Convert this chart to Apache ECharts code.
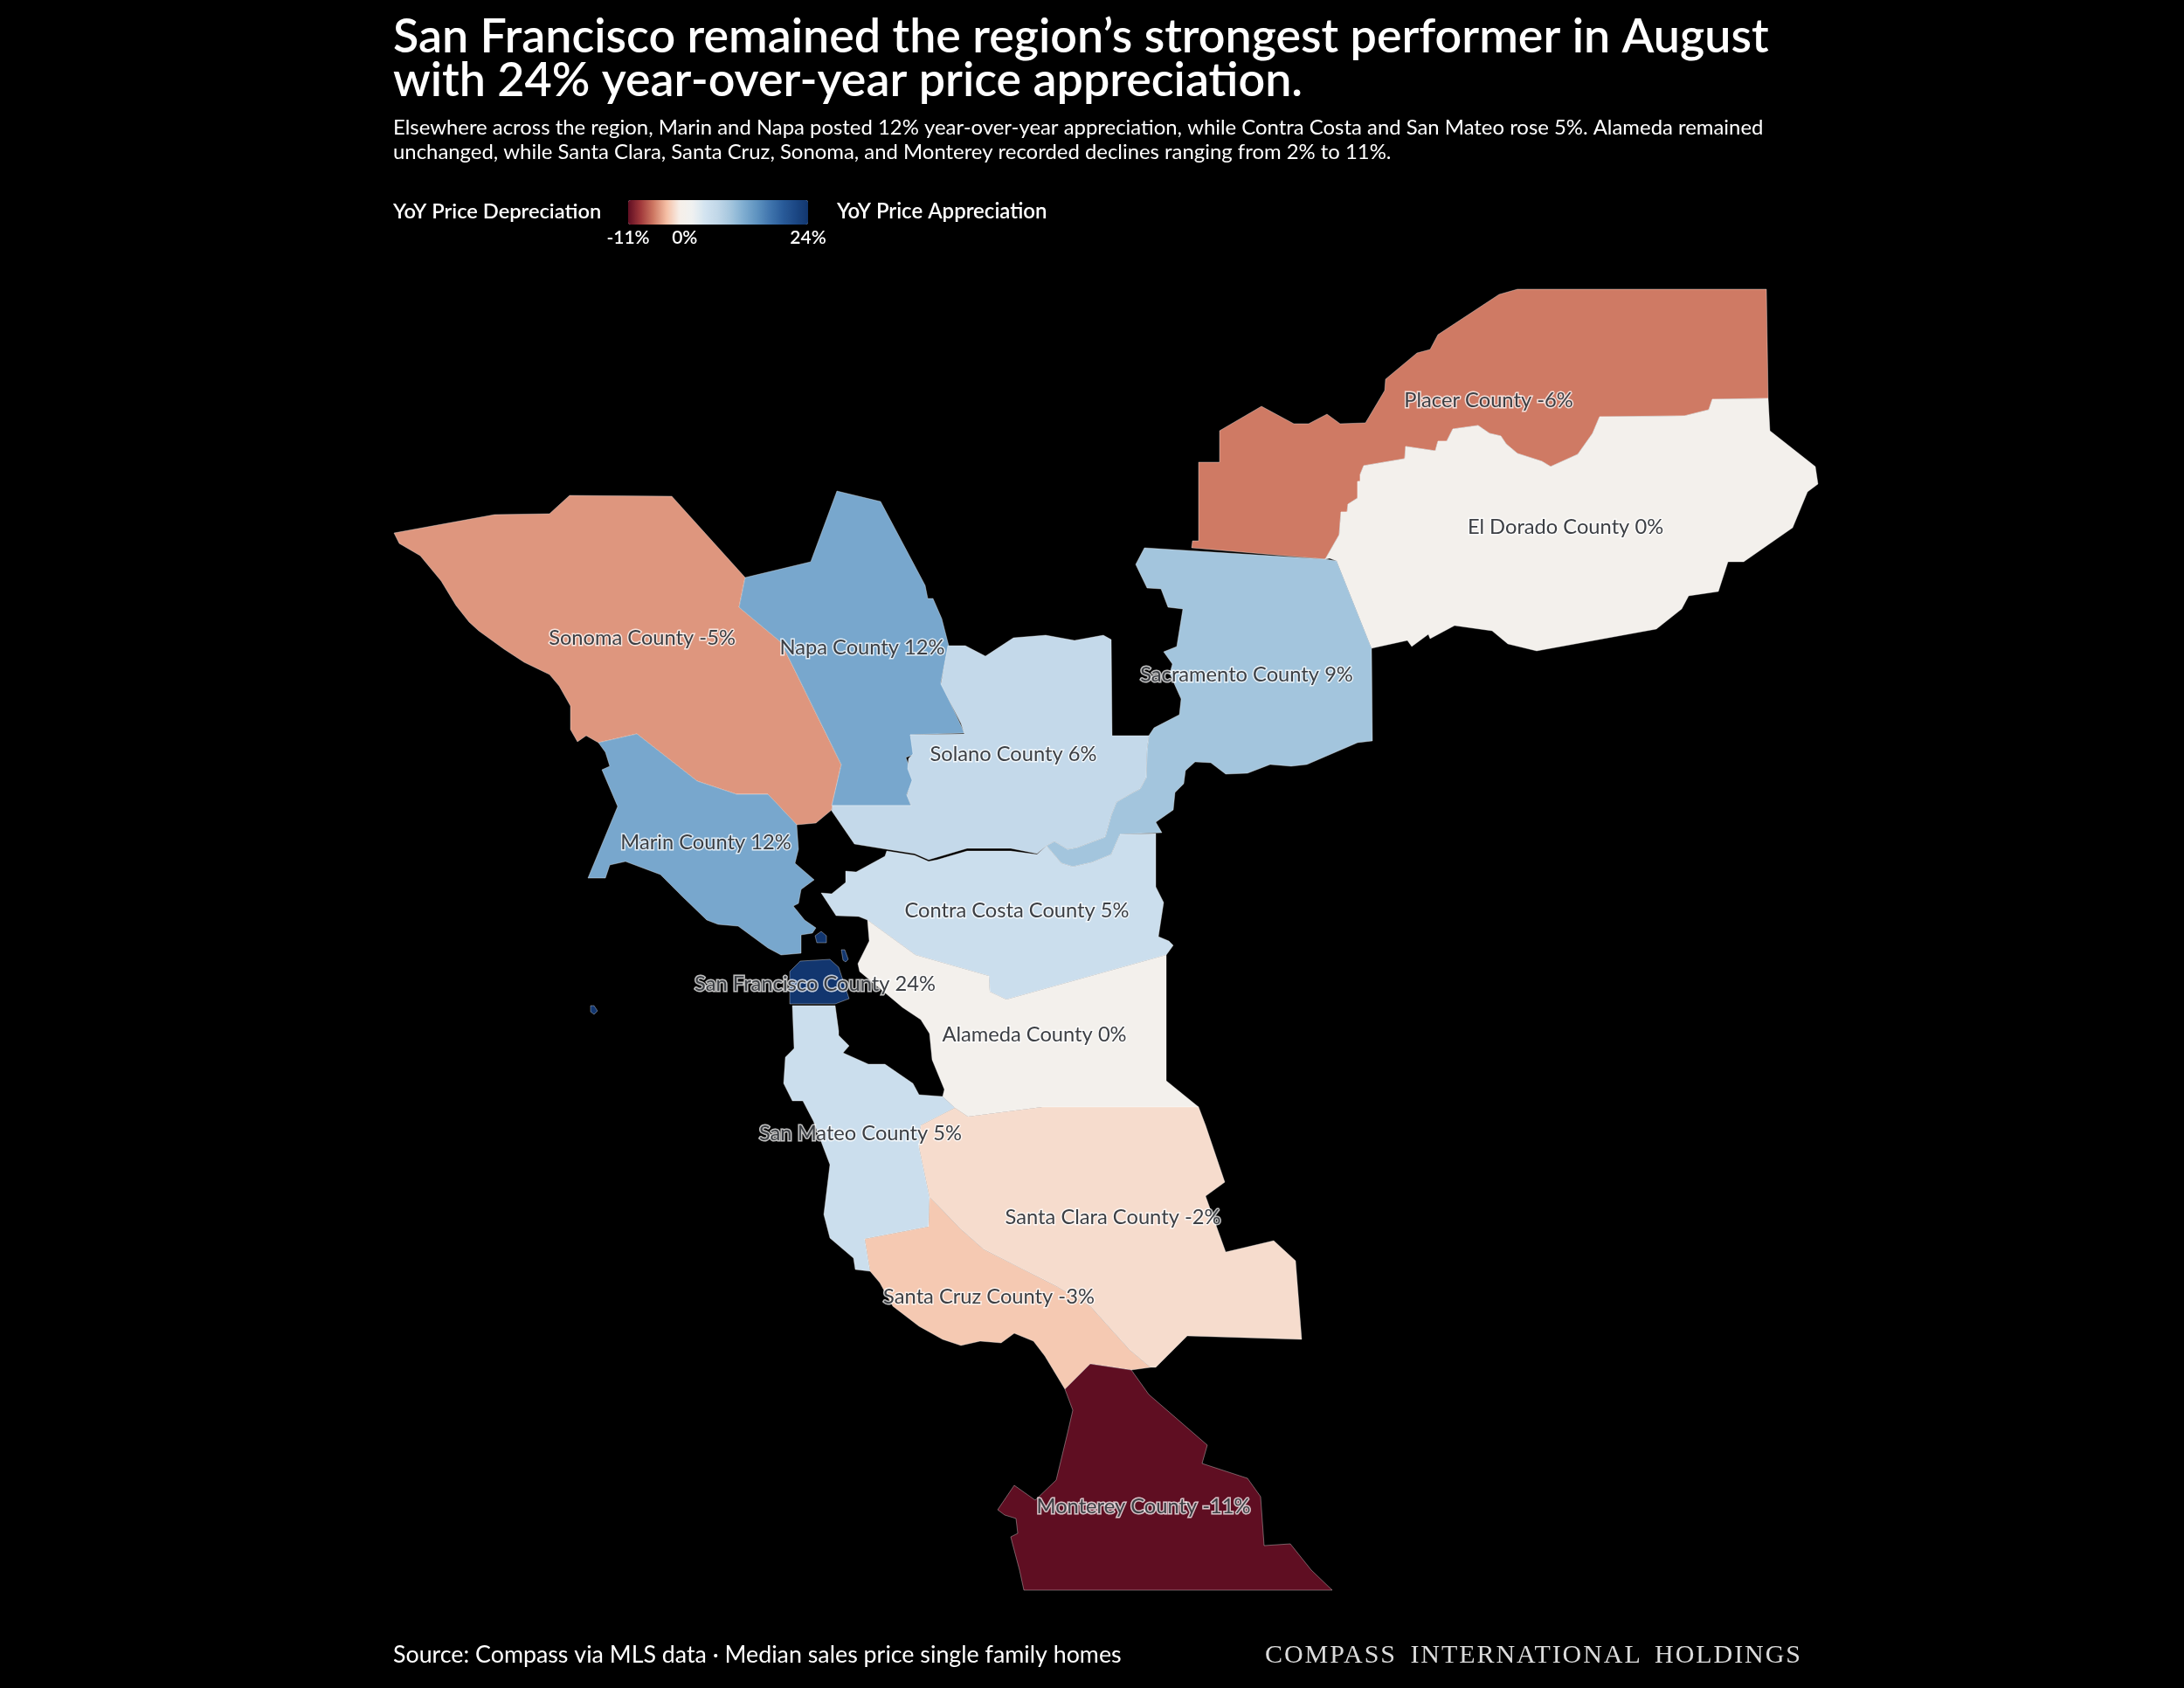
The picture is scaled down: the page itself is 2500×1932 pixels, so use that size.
<!DOCTYPE html>
<html>
<head>
<meta charset="utf-8">
<title>Bay Area YoY price appreciation by county</title>
<script src="https://cdn.jsdelivr.net/npm/echarts@6/dist/echarts.min.js"></script>
<style>
  html, body { margin: 0; padding: 0; background: #000; }
  #chart { width: 2500px; height: 1932px; }
  #wordmark {
    position: absolute; left: 1448px; top: 1875px;
    font: 400 30px "Liberation Serif", serif; line-height: 36px;
    color: #dcdcdc; letter-spacing: 1.95px; word-spacing: 6px; white-space: nowrap;
  }
</style>
</head>
<body>
<div id="chart"></div>
<div id="wordmark">COMPASS INTERNATIONAL HOLDINGS</div>
<script>
// Data
var counties = ['Placer', 'El Dorado', 'Sonoma', 'Napa', 'Sacramento', 'Solano', 'Marin',
  'Contra Costa', 'San Francisco', 'Alameda', 'San Mateo', 'Santa Clara', 'Santa Cruz', 'Monterey'];
var yoyChange = [-6, 0, -5, 12, 9, 6, 12, 5, 24, 0, 5, -2, -3, -11];
var legendTicks = [-11, 0, 24];

// County outlines, x / y as measured on the 2500 wide map
var placerSouthEdge = [[2024,456],[1960,457],[1956,469],[1928,476],[1831,477],[1823,496],[1806,520],[1775,534],[1765,528],[1737,519],[1724,508],[1718,499],[1705,496],[1692,487],[1663,491],[1656,505],[1646,505],[1643,516],[1609,511],[1608,525],[1561,533],[1557,543],[1557,551],[1554,551],[1554,570],[1543,577],[1542,586],[1535,586],[1533,612],[1517,640]];
var placerShape = [[1364,627],[1365,619],[1372,619],[1372,529],[1396,529],[1396,493],[1444,465],[1481,485],[1498,485],[1519,474],[1534,485],[1563,484],[1585,447],[1586,434],[1622,404],[1637,400],[1646,383],[1716,337],[1737,331],[2022,331]].concat(placerSouthEdge);
var elDoradoShape = placerSouthEdge.slice().reverse().concat([[2026,493],[2078,534],[2081,554],[2069,563],[2052,604],[1996,643],[1978,643],[1967,677],[1933,682],[1925,697],[1896,720],[1759,745],[1726,737],[1708,722],[1665,716],[1637,731],[1635,726],[1616,740],[1611,733],[1570,742],[1530,642],[1522,639]]);
var sonomaShape = [[451,610],[566,589],[629,588],[652,567],[769,568],[853,661],[846,695],[894,735],[963,875],[952,927],[934,942],[912,944],[879,909],[843,909],[798,894],[729,840],[685,850],[671,842],[661,849],[653,835],[653,808],[640,785],[629,772],[600,758],[577,743],[548,722],[537,712],[522,693],[505,665],[481,636],[457,622]];
var napaShape = [[853,661],[928,643],[958,562],[1008,574],[1059,670],[1062,685],[1068,685],[1078,708],[1086,739],[1077,781],[1104,839],[1042,841],[1048,863],[1037,867],[1046,892],[1038,909],[1043,922],[952,922],[963,875],[894,735],[846,695]];
var sacramentoShape = [[1310,627],[1517,640],[1530,642],[1570,742],[1571,848],[1554,850],[1496,875],[1478,877],[1454,875],[1428,885],[1403,886],[1386,873],[1368,872],[1357,882],[1355,897],[1345,907],[1343,927],[1323,941],[1330,953],[1282,955],[1272,978],[1250,987],[1228,992],[1215,988],[1198,968],[1207,963],[1222,972],[1233,970],[1265,958],[1272,933],[1278,918],[1297,907],[1305,903],[1312,890],[1313,857],[1315,842],[1321,833],[1350,818],[1352,800],[1339,771],[1342,760],[1332,746],[1347,740],[1354,697],[1337,695],[1329,674],[1313,673],[1300,646]];
var solanoShape = [[1085,739],[1105,739],[1128,751],[1160,730],[1197,727],[1230,733],[1263,727],[1272,732],[1273,842],[1315,842],[1313,857],[1312,890],[1305,903],[1297,907],[1278,918],[1272,933],[1265,958],[1233,970],[1222,972],[1207,963],[1198,968],[1187,977],[1157,971],[1107,971],[1063,984],[1047,977],[1015,972],[978,966],[952,928],[953,922],[1043,922],[1038,910],[1044,893],[1039,880],[1040,868],[1045,863],[1042,841],[1104,840],[1100,828],[1077,783]];
var marinShape = [[685,850],[729,840],[798,894],[843,909],[879,909],[912,944],[914,972],[910,988],[932,1007],[917,1018],[914,1034],[908,1037],[921,1053],[934,1062],[930,1068],[917,1070],[917,1091],[894,1093],[879,1085],[845,1060],[822,1058],[809,1053],[783,1028],[756,1001],[716,986],[698,990],[693,1005],[673,1005],[707,923],[689,881],[698,877],[693,861]];
var contraCostaShape = [[940,1022],[952,1023],[968,1010],[968,997],[980,998],[1013,980],[1015,974],[1047,979],[1063,986],[1073,984],[1107,974],[1157,974],[1187,978],[1198,968],[1215,988],[1228,992],[1250,987],[1272,978],[1282,955],[1323,954],[1323,1015],[1332,1033],[1326,1072],[1338,1077],[1343,1082],[1335,1093],[1152,1144],[1133,1135],[1132,1117],[1048,1093],[993,1053],[983,1049],[957,1048]];
var sanFranciscoShape = [[904,1149],[904,1112],[916,1100],[950,1098],[960,1107],[972,1143],[956,1149]];
var alcatrazShape = [[933,1071],[940,1066],[946,1071],[946,1079],[935,1079]];
var treasureIslandShape = [[963,1087],[967,1087],[971,1098],[968,1101],[965,1099]];
var farallonShape = [[676,1151],[680,1151],[684,1157],[680,1161],[676,1158]];
var alamedaShape = [[993,1053],[1048,1093],[1132,1117],[1133,1135],[1152,1144],[1335,1093],[1335,1237],[1372,1267],[1193,1267],[1108,1278],[1093,1268],[1079,1255],[1081,1247],[1067,1213],[1064,1183],[1054,1167],[1033,1153],[1008,1132],[984,1112],[982,1103],[995,1077]];
var sanMateoShape = [[907,1151],[956,1151],[960,1180],[960,1185],[972,1197],[965,1205],[994,1218],[1013,1218],[1045,1240],[1052,1253],[1079,1255],[1093,1268],[1054,1288],[1052,1313],[1064,1370],[1063,1404],[990,1418],[996,1455],[979,1453],[977,1440],[950,1417],[943,1390],[950,1333],[931,1283],[919,1260],[907,1260],[897,1240],[899,1210],[909,1200]];
var santaClaraShape = [[1372,1267],[1380,1288],[1402,1353],[1380,1369],[1403,1433],[1458,1420],[1483,1443],[1490,1533],[1359,1529],[1323,1565],[1317,1565],[1293,1545],[1248,1495],[1209,1472],[1126,1430],[1100,1407],[1064,1370],[1052,1313],[1054,1288],[1093,1268],[1108,1278],[1193,1267]];
var santaCruzShape = [[990,1418],[1063,1404],[1064,1370],[1100,1407],[1126,1430],[1209,1472],[1248,1495],[1293,1545],[1317,1565],[1295,1568],[1248,1561],[1219,1590],[1196,1552],[1183,1535],[1161,1526],[1146,1537],[1122,1535],[1100,1540],[1079,1533],[1052,1518],[1022,1495],[1007,1468],[996,1455]];
var montereyShape = [[1219,1590],[1248,1561],[1295,1568],[1315,1596],[1382,1654],[1376,1675],[1428,1692],[1443,1713],[1447,1769],[1477,1767],[1501,1797],[1525,1820],[1172,1820],[1167,1797],[1159,1767],[1157,1759],[1165,1755],[1163,1738],[1150,1734],[1142,1728],[1161,1700],[1185,1717],[1209,1694],[1222,1640],[1228,1614]];

var countyShapes = [[placerShape], [elDoradoShape], [sonomaShape], [napaShape], [sacramentoShape], [solanoShape], [marinShape],
  [contraCostaShape], [sanFranciscoShape, alcatrazShape, treasureIslandShape, farallonShape], [alamedaShape], [sanMateoShape],
  [santaClaraShape], [santaCruzShape], [montereyShape]];
// where each label sits
var labelPoints = [[1704,458],[1792,603],[735,730],[987,741],[1427,772],[1160,863],[808,964],[1164,1042],[933,1126],[1184,1184],[985,1297],[1274,1393],[1132,1484],[1309,1724]];

// Colour ramp, one stop every 2.5 points from -11 to 24
var rampColors = ['#5f0e22', '#a23a3c', '#cf7a64', '#f5bfa5', '#f6efe8', '#eff1f1', '#d2e3f0', '#c0d7e8', '#a3c5dd', '#7eacd0', '#5f93c0', '#4176ae', '#2a5c9a', '#1c4885', '#12366f'];

function flip(ring) {
  return ring.map(function (p) { return [p[0], -p[1]]; });
}

var features = counties.map(function (name, i) {
  return {
    type: 'Feature',
    properties: { name: name, cp: [labelPoints[i][0], -labelPoints[i][1]] },
    geometry: {
      type: 'MultiPolygon',
      coordinates: countyShapes[i].map(function (ring) { return [flip(ring)]; })
    }
  };
});
echarts.registerMap('bayArea', { type: 'FeatureCollection', features: features });

var mapData = counties.map(function (name, i) {
  return { name: name, value: yoyChange[i] };
});

// legend bar position
var barLeft = 719, barTop = 229, barLength = 206, barThick = 28;
var textFont = 'Lato';

var legendTickText = legendTicks.map(function (v) {
  return {
    type: 'text',
    x: barLeft + (v - legendTicks[0]) / (legendTicks[2] - legendTicks[0]) * barLength,
    y: 272,
    style: { text: v + '%', fill: '#fff', font: '600 21px ' + textFont, align: 'center', verticalAlign: 'middle' }
  };
});

var chartDom = document.getElementById('chart');
var myChart = echarts.init(chartDom);
var option = {
  backgroundColor: '#000',
  animation: false,
  title: [
    {
      text: 'San Francisco remained the region\u2019s strongest performer in August\nwith 24% year-over-year price appreciation.',
      left: 450, top: 18, padding: 0,
      textStyle: { color: '#fff', fontFamily: textFont, fontWeight: 600, fontSize: 53.8, lineHeight: 50 }
    },
    {
      text: 'Elsewhere across the region, Marin and Napa posted 12% year-over-year appreciation, while Contra Costa and San Mateo rose 5%. Alameda remained\nunchanged, while Santa Clara, Santa Cruz, Sonoma, and Monterey recorded declines ranging from 2% to 11%.',
      left: 450, top: 132, padding: 0,
      textStyle: { color: '#fff', fontFamily: textFont, fontWeight: 400, fontSize: 23.9, lineHeight: 28 }
    },
    {
      text: 'YoY Price Depreciation',
      left: 450, top: 230, padding: 0,
      textStyle: { color: '#fff', fontFamily: textFont, fontWeight: 600, fontSize: 23.7 }
    },
    {
      text: 'YoY Price Appreciation',
      left: 958, top: 230, padding: 0,
      textStyle: { color: '#fff', fontFamily: textFont, fontWeight: 600, fontSize: 24 }
    },
    {
      text: 'Source: Compass via MLS data \u00b7 Median sales price single family homes',
      left: 450, top: 1881, padding: 0,
      textStyle: { color: '#fff', fontFamily: textFont, fontWeight: 400, fontSize: 26.8 }
    }
  ],
  visualMap: {
    type: 'continuous',
    min: legendTicks[0],
    max: legendTicks[2],
    orient: 'horizontal',
    left: barLeft,
    top: barTop,
    padding: 0,
    itemWidth: barThick,
    itemHeight: barLength,
    text: null,
    calculable: false,
    realtime: false,
    showLabel: false,
    inRange: { color: rampColors },
    textStyle: { color: 'rgba(0,0,0,0)', fontSize: 1 },
    seriesIndex: 0
  },
  graphic: legendTickText,
  series: [
    {
      type: 'map',
      map: 'bayArea',
      aspectScale: 1,
      left: 451,
      top: 331,
      width: 1630,
      height: 1489,
      roam: false,
      silent: true,
      selectedMode: false,
      itemStyle: { borderColor: 'rgba(255,255,255,0.35)', borderWidth: 1 },
      label: {
        show: true,
        color: '#3c3f44',
        fontFamily: textFont,
        fontSize: 23.7,
        textBorderColor: 'rgba(255,255,255,0.75)',
        textBorderWidth: 3,
        formatter: function (p) { return p.name + ' County ' + p.value + '%'; }
      },
      data: mapData
    }
  ]
};
option && myChart.setOption(option);
</script>
</body>
</html>
